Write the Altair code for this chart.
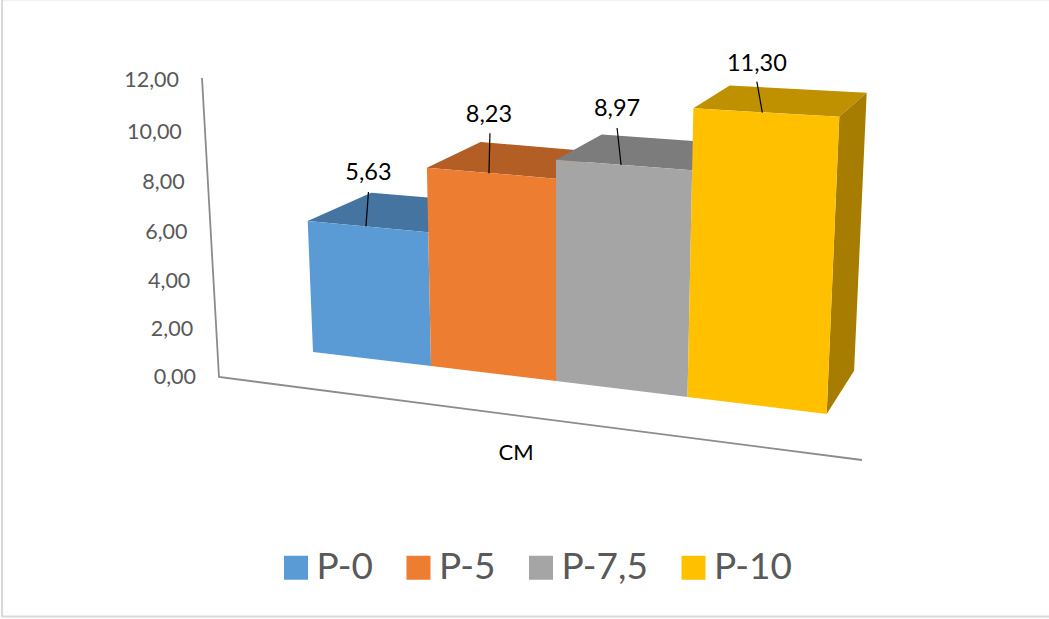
import altair as alt
import pandas as pd

W, H = 1049, 619

# Series values
series = ["P-0", "P-5", "P-7,5", "P-10"]
values = [5.63, 8.23, 8.97, 11.30]
value_labels = ["5,63", "8,23", "8,97", "11,30"]
front_colors = ["#5B9BD5", "#ED7D31", "#A5A5A5", "#FFC000"]
top_colors = ["#44749F", "#B25E25", "#7C7C7C", "#BF9000"]
side_color = "#A67D00"

# Value axis ticks
tick_values = [0, 2, 4, 6, 8, 10, 12]
tick_labels = ["0,00", "2,00", "4,00", "6,00", "8,00", "10,00", "12,00"]

# Perspective of the 3D scene: one entry for each bar edge, left to right
BASE_X = [313, 431, 556, 687.5, 826.7]
BASE_Y = [352, 366, 381, 397, 414]
RISE = [22.6, 23.1, 23.6, 24.2, 24.94]
LEAN = [-0.94, -0.5, 0, 0.52, 1.115]
DEPTH_X = [63.5, 53.7, 45.7, 36.3, 27.4]
DEPTH_Y = [-37.9, -39.7, -40.5, -42, -43.3]

# Data-label placement relative to the middle of each bar's front top edge
LABEL_SHIFT = [(0.5, -53.5), (-2.5, -58), (-7, -55.5), (-9.5, -49)]
LEADER_FOOT = [(-2, 0), (-2.5, 0), (-3, 0), (-4, 0)]
LEADER_TOP = [(0.5, -34.5), (-1.5, -40), (-7, -37), (-9.5, -31)]


def project(edge, value, back=False):
    """Map a bar edge, a value and a depth flag to scene coordinates."""
    px = BASE_X[edge] + LEAN[edge] * value
    py = BASE_Y[edge] - (RISE[edge] + 0.12 * value) * value
    if back:
        px += DEPTH_X[edge]
        py += DEPTH_Y[edge] + 1.7 * value
    return px, py


def face(points):
    """Closed polygon as ordered rows."""
    closed = points + [points[0]]
    return pd.DataFrame(
        [{"px": p[0], "py": p[1], "vertex": i} for i, p in enumerate(closed)]
    )


x_enc = alt.X("px:Q", scale=alt.Scale(domain=[0, W], range=[0, W], nice=False, zero=False), axis=None)
y_enc = alt.Y("py:Q", scale=alt.Scale(domain=[0, H], range=[0, H], nice=False, zero=False), axis=None)
order_enc = alt.Order("vertex:Q")

legend = alt.Legend(
    title=None,
    orient="none",
    legendX=277.5,
    legendY=549,
    direction="horizontal",
    columns=4,
    symbolType="square",
    symbolSize=576,
    symbolStrokeWidth=0,
    labelFont="Lato",
    labelFontSize=37,
    labelColor="#595959",
    labelOffset=2,
    columnPadding=26.5,
    labelLimit=200,
    symbolOffset=0,
    padding=0,
)
fill_scale = alt.Scale(domain=series, range=front_colors)

layers = []


def polygon_layer(points, fill):
    return alt.Chart(face(points)).mark_line(filled=True, fill=fill, strokeWidth=0).encode(
        x=x_enc, y=y_enc, order=order_enc
    )


# Bars are painted left to right so nearer faces cover the tops behind them
for i, (name, v) in enumerate(zip(series, values)):
    top = [project(i, v), project(i, v, True), project(i + 1, v, True), project(i + 1, v)]
    layers.append(polygon_layer(top, top_colors[i]))
    if i == len(series) - 1:
        side = [project(i + 1, v), project(i + 1, v, True), project(i + 1, 0, True), project(i + 1, 0)]
        layers.append(polygon_layer(side, side_color))
    front = [project(i, 0), project(i, v), project(i + 1, v), project(i + 1, 0)]
    df = face(front).assign(series=name)
    layers.append(
        alt.Chart(df).mark_line(filled=True, strokeWidth=0).encode(
            x=x_enc, y=y_enc, order=order_enc,
            fill=alt.Fill("series:N", scale=fill_scale, legend=legend, sort=series),
        )
    )

# Wall and floor edges
axis_df = pd.DataFrame({"px": [202, 219, 862], "py": [78, 377, 460], "vertex": [0, 1, 2]})
layers.append(
    alt.Chart(axis_df).mark_line(color="#8C8C8C", strokeWidth=1.8).encode(x=x_enc, y=y_enc, order=order_enc)
)

# Chart frame: a faint top edge, then the left and bottom edges
frame_top = pd.DataFrame({"px": [2, W], "py": [0.5, 0.5], "vertex": [0, 1]})
layers.append(
    alt.Chart(frame_top).mark_line(color="#F2F2F2", strokeWidth=1.5).encode(x=x_enc, y=y_enc, order=order_enc)
)
frame_df = pd.DataFrame({"px": [2, 2, W], "py": [0, 616.5, 616.5], "vertex": [0, 1, 2]})
layers.append(
    alt.Chart(frame_df).mark_line(color="#D9D9D9", strokeWidth=2).encode(x=x_enc, y=y_enc, order=order_enc)
)

# Value axis labels follow the slanted wall edge
tick_df = pd.DataFrame(
    {
        "px": [196 - 17 * t / 12 for t in tick_values],
        "py": [378 - (23.58 * t + 0.097 * t * t) for t in tick_values],
        "label": tick_labels,
    }
)
layers.append(
    alt.Chart(tick_df).mark_text(
        align="right", baseline="middle", font="Lato", fontSize=21.5, color="#595959"
    ).encode(x=x_enc, y=y_enc, text="label:N")
)

# Data labels and their leader lines
label_rows, leader_rows = [], []
for i, v in enumerate(values):
    x0, y0 = project(i, v)
    x1, y1 = project(i + 1, v)
    mx, my = (x0 + x1) / 2, (y0 + y1) / 2
    label_rows.append({"px": mx + LABEL_SHIFT[i][0], "py": my + LABEL_SHIFT[i][1], "label": value_labels[i]})
    leader_rows.append({"px": mx + LEADER_FOOT[i][0], "py": my + LEADER_FOOT[i][1], "vertex": 0, "bar": i})
    leader_rows.append({"px": mx + LEADER_TOP[i][0], "py": my + LEADER_TOP[i][1], "vertex": 1, "bar": i})

layers.append(
    alt.Chart(pd.DataFrame(leader_rows)).mark_line(color="#000000", strokeWidth=1.2).encode(
        x=x_enc, y=y_enc, order=order_enc, detail="bar:N"
    )
)
layers.append(
    alt.Chart(pd.DataFrame(label_rows)).mark_text(
        align="center", baseline="middle", font="Lato", fontSize=23.5, color="#000000"
    ).encode(x=x_enc, y=y_enc, text="label:N")
)

# Category label below the floor edge
cat_df = pd.DataFrame({"px": [516], "py": [453], "label": ["CM"]})
layers.append(
    alt.Chart(cat_df).mark_text(
        align="center", baseline="middle", font="Lato", fontSize=22, color="#000000"
    ).encode(x=x_enc, y=y_enc, text="label:N")
)

chart = (
    alt.layer(*layers)
    .properties(width=W, height=H, padding=0, autosize=alt.AutoSizeParams(type="none"), background="white")
    .configure_view(stroke=None)
)

chart.save("out.html", embed_options={"renderer": "svg", "actions": False})
